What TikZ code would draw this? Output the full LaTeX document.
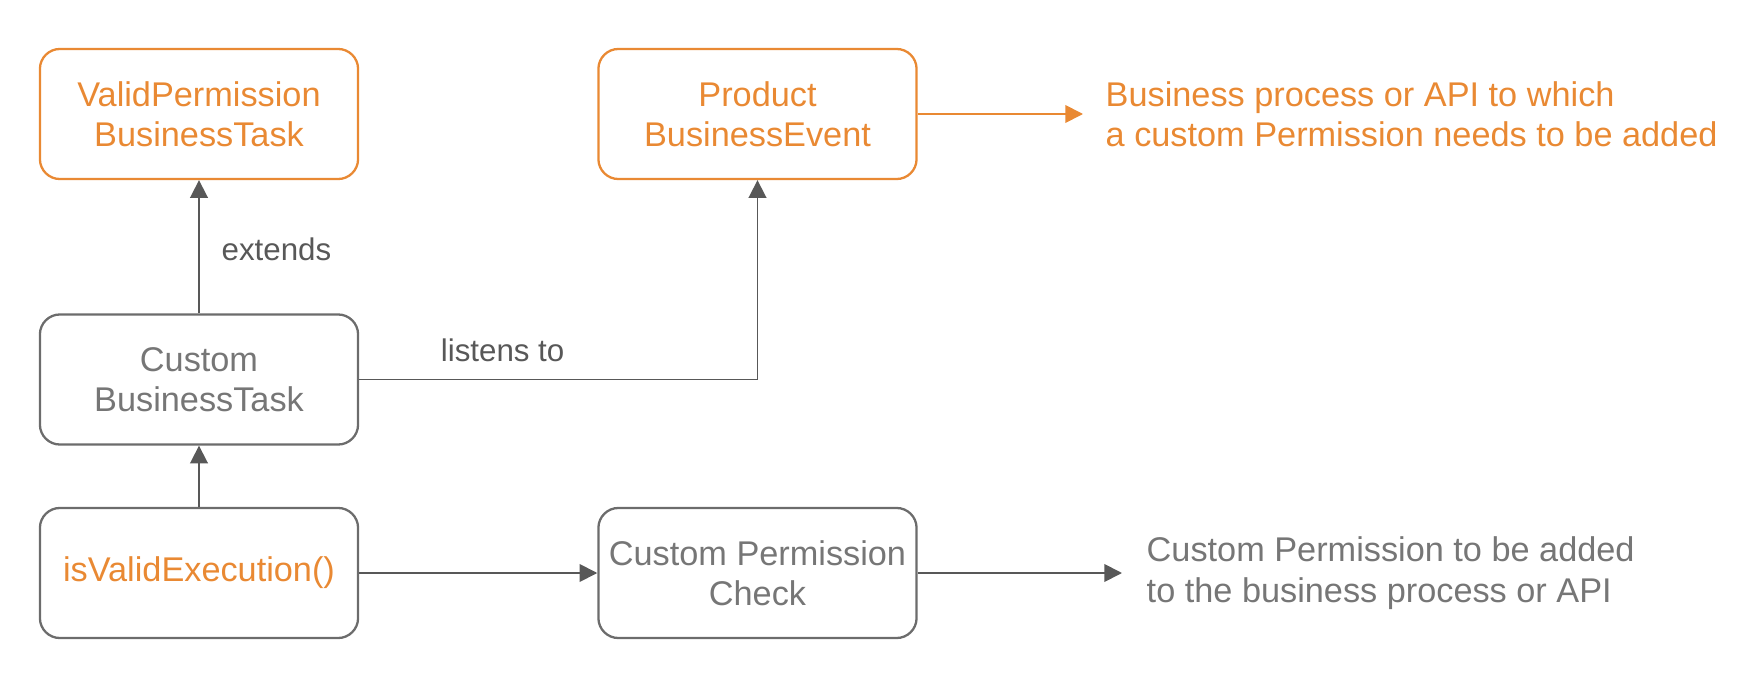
\documentclass[tikz,border=0pt]{standalone}
\usepackage{fontspec}
\setmainfont{Liberation Sans}
\definecolor{orange}{RGB}{233,137,51}
\definecolor{boxgray}{RGB}{108,108,108}
\definecolor{textgray}{RGB}{118,118,118}
\definecolor{linegray}{RGB}{88,88,88}
\usetikzlibrary{arrows.meta}

\begin{document}
\begin{tikzpicture}[x=0.01cm, y=-0.01cm,
  font=\fontsize{9.75}{11.5}\selectfont,
  box/.style={draw=boxgray, text=textgray, rounded corners=0.2cm, line width=0.65pt,
    minimum width=3.18cm, minimum height=1.3cm, inner xsep=0.05cm, align=center},
  note/.style={anchor=west, align=left, inner xsep=0.22cm},
  label/.style={text=linegray, font=\fontsize{8.9}{10.7}\selectfont},
  arr/.style={-{Triangle[length=5pt,width=5pt]}, line width=0.5pt, draw=linegray}]
  \useasboundingbox (0,0) rectangle (1750,694);
  %% Boxes
  \node[box, draw=orange, text=orange] (valid) at (199,114) {ValidPermission\\BusinessTask};
  \node[box, draw=orange, text=orange] (event) at (757.5,114) {Product\\BusinessEvent};
  \node[box] (custom) at (199,379.5) {Custom\\BusinessTask};
  \node[box, text=orange] (isvalid) at (199,573) {isValidExecution()};
  \node[box] (check) at (757.5,573) {Custom Permission\\Check};
  %% Notes on the right
  \node[note, text=orange] (eventnote) at (1083,114) {Business process or API to which\\a custom Permission needs to be added};
  \node[note, text=textgray, inner xsep=0.24cm] (checknote) at (1122,573) {Custom Permission to be added\\to the business process or API};
  %% Connectors
  \draw[arr] (custom) -- node[midway, right=0.1cm, yshift=-0.03cm, label] {extends} (valid);
  \draw[arr] (custom.east) -- node[pos=0.36, above=0.05cm, label] {listens to}
    (custom.east -| event.south) -- (event.south);
  \draw[arr] (isvalid) -- (custom);
  \draw[arr] (isvalid) -- (check);
  \draw[arr, draw=orange, fill=orange] (event) -- (eventnote);
  \draw[arr, fill=linegray] (check) -- (checknote);
\end{tikzpicture}
\end{document}
